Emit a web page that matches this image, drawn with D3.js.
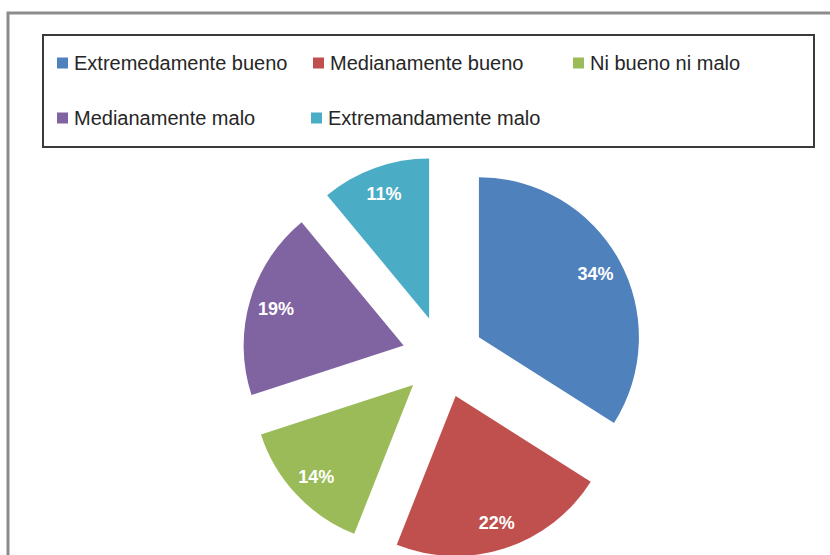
<!DOCTYPE html>
<html>
<head>
<meta charset="utf-8">
<script src="https://cdn.jsdelivr.net/npm/d3@7"></script>
<style>
  html, body { margin: 0; padding: 0; background: #fff; }
  svg { display: block; }
  .legend-label { font-family: "Liberation Sans", Arial, sans-serif; font-size: 20px; fill: #262626; }
  .slice-label { font-family: "Liberation Sans", Arial, sans-serif; font-size: 18px; font-weight: bold; fill: #fff; }
</style>
</head>
<body>
<div id="vis"></div>
<script>
const categories = ["Extremedamente bueno", "Medianamente bueno", "Ni bueno ni malo", "Medianamente malo", "Extremandamente malo"];
const values = [34, 22, 14, 19, 11];
const colors = ["#4F81BD", "#C0504D", "#9BBB59", "#8064A2", "#4BACC6"];

const width = 830, height = 555;
const radius = 160;
const explode = 41;
const center = { x: 443, y: 357 };

const svg = d3.select("#vis")
    .append("svg")
    .attr("width", width)
    .attr("height", height);

// outer frame (cut off on the right and bottom)
svg.append("rect")
    .attr("x", 8)
    .attr("y", 13)
    .attr("width", 900)
    .attr("height", 700)
    .attr("fill", "none")
    .attr("stroke", "#8c8c8c")
    .attr("stroke-width", 3);

// legend
const legendBox = { x: 43, y: 35, w: 771, h: 112 };
svg.append("rect")
    .attr("x", legendBox.x)
    .attr("y", legendBox.y)
    .attr("width", legendBox.w)
    .attr("height", legendBox.h)
    .attr("fill", "#fff")
    .attr("stroke", "#3a3a3a")
    .attr("stroke-width", 2);

const legendCols = [57, 313, 573];
const legendRows = [63, 118];
const perRow = 3;

const legend = svg.append("g").attr("class", "legend");
const items = legend.selectAll("g")
    .data(categories)
    .join("g")
    .attr("transform", (d, i) => `translate(${legendCols[i % perRow] - (i >= perRow && i % perRow === 1 ? 2 : 0)},${legendRows[Math.floor(i / perRow)]})`);

items.append("rect")
    .attr("x", 0)
    .attr("y", -5.5)
    .attr("width", 11)
    .attr("height", 11)
    .attr("fill", (d, i) => colors[i]);

items.append("text")
    .attr("class", "legend-label")
    .attr("x", 17)
    .attr("y", 0)
    .attr("dy", "0.36em")
    .text(d => d);

// pie
const pie = d3.pie().sort(null).value(d => d);
const arc = d3.arc().innerRadius(0).outerRadius(radius);
const labelArc = d3.arc().innerRadius(133).outerRadius(133);

const arcs = pie(values);

const slices = svg.append("g")
    .attr("transform", `translate(${center.x},${center.y})`)
    .selectAll("g")
    .data(arcs)
    .join("g")
    .attr("transform", d => {
        const mid = (d.startAngle + d.endAngle) / 2;
        return `translate(${Math.sin(mid) * explode},${-Math.cos(mid) * explode})`;
    });

slices.append("path")
    .attr("d", arc)
    .attr("fill", (d, i) => colors[i]);

slices.append("text")
    .attr("class", "slice-label")
    .attr("transform", d => `translate(${labelArc.centroid(d)})`)
    .attr("text-anchor", "middle")
    .attr("dy", "0.36em")
    .text(d => d.data + "%");
</script>
</body>
</html>
